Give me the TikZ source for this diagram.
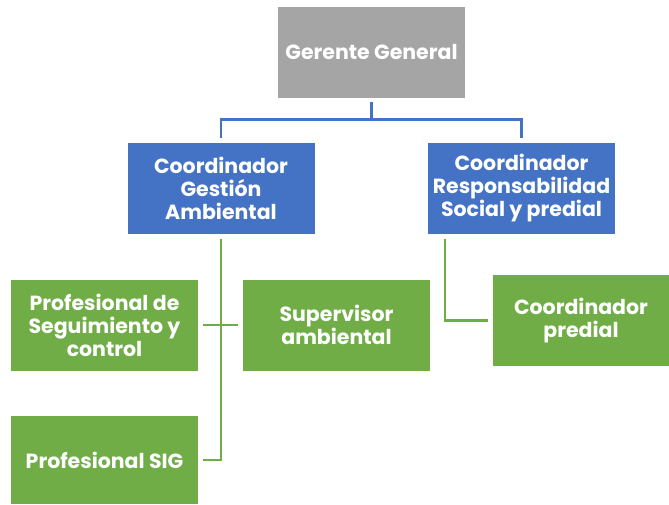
\documentclass[tikz,border=0pt]{standalone}
\usepackage{fontspec}
\setmainfont{Poppins}
\begin{document}
\begin{tikzpicture}[x=1pt,y=-1pt,
  box/.style={inner sep=0pt,minimum width=187pt,minimum height=91pt,text=white,align=center,
    font=\fontsize{20.5}{23}\selectfont\bfseries},
  gbox/.style={box,fill=ggray},
  bbox/.style={box,fill=bblue},
  grbox/.style={box,fill=ggreen},
  bline/.style={draw=bblue,line width=2.5pt},
  gline/.style={draw=ggreen,line width=2.5pt}]
\definecolor{ggray}{HTML}{A5A5A5}
\definecolor{bblue}{HTML}{4472C4}
\definecolor{ggreen}{HTML}{70AD47}
\useasboundingbox (0,0) rectangle (669,504);
\node[gbox] (gg) at (371.5,52) {Gerente General};
\node[bbox] (ga) at (221,188.5) {Coordinador\\Gestión\\Ambiental};
\node[bbox] (rs) at (521.5,188.5) {Coordinador\\Responsabilidad\\Social y predial};
\node[grbox] (seg) at (104.5,325) {Profesional de\\Seguimiento y\\control};
\node[grbox] (sup) at (336.5,325) {Supervisor\\ambiental};
\node[grbox,minimum height=88pt] (sig) at (104.5,460) {Profesional SIG};
\node[grbox,minimum width=176pt] (pred) at (581,320.5) {Coordinador\\predial};
\coordinate (bj) at ([yshift=-22pt]gg.south);
\draw[bline] ([yshift=-4pt]gg.south) -- (bj);
\draw[bline] (bj) -| ([yshift=5pt]ga.north);
\draw[bline] (bj) -| ([yshift=5pt]rs.north);
\draw[gline] ([yshift=-5pt]ga.south) |- ([xshift=5pt]sig.east);
\draw[gline] ([xshift=5pt]seg.east) -- ([xshift=-5pt]sup.west);
\draw[gline] ([xshift=17pt,yshift=-5pt]rs.south west) |- ([xshift=-5pt]pred.west);
\end{tikzpicture}
\end{document}
